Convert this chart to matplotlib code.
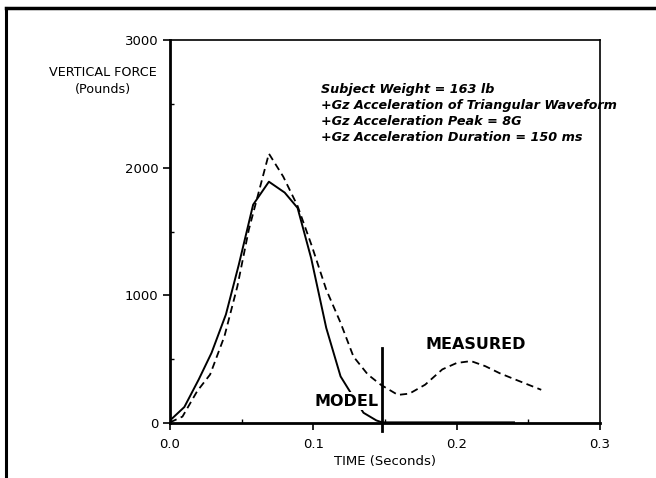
import numpy as np
import matplotlib.pyplot as plt
from matplotlib.lines import Line2D

# Model (solid) curve
t_model = [0.0, 0.010, 0.020, 0.029, 0.039, 0.048, 0.058, 0.069, 0.080, 0.089,
           0.0985, 0.109, 0.119, 0.127, 0.135, 0.144, 0.148, 0.24]
f_model = [20, 125, 340, 550, 850, 1240, 1710, 1890, 1805, 1685,
           1290, 745, 365, 220, 80, 20, 5, 5]

# Measured (dashed) curve
t_meas = [0.0, 0.0087, 0.019, 0.028, 0.038, 0.047, 0.055, 0.069, 0.079, 0.089,
          0.099, 0.109, 0.119, 0.128, 0.138, 0.147, 0.159, 0.167, 0.178, 0.190,
          0.200, 0.210, 0.220, 0.230, 0.241, 0.250, 0.259]
f_meas = [5, 50, 250, 380, 680, 1070, 1515, 2110, 1930, 1700,
          1385, 1045, 785, 520, 380, 300, 220, 230, 300, 420,
          470, 485, 445, 390, 340, 300, 260]

# vertical marker at end of pulse
pulse_end = 0.148
pulse_range = [-60, 590]

info = ("Subject Weight = 163 lb\n"
        "+Gz Acceleration of Triangular Waveform\n"
        "+Gz Acceleration Peak = 8G\n"
        "+Gz Acceleration Duration = 150 ms")

fig = plt.figure(figsize=(6.56, 4.78), dpi=100)
ax = fig.add_axes([170/656, 1-423/478, 430/656, 383/478])

ax.plot(t_model, f_model, color='black', lw=1.4)
ax.plot(t_meas, f_meas, color='black', lw=1.3, ls=(0, (4, 2.5)))
ax.plot([pulse_end, pulse_end], pulse_range, color='black', lw=2, clip_on=False)

ax.set_xlim(0, 0.3)
ax.set_ylim(0, 3000)
ax.set_xticks([0.0, 0.1, 0.2, 0.3])
ax.set_xticklabels(['0.0', '0.1', '0.2', '0.3'])
ax.set_yticks([0, 1000, 2000, 3000])
ax.set_xticks([0.05, 0.15, 0.25], minor=True)
ax.set_yticks([500, 1500, 2500], minor=True)
ax.tick_params(which='major', direction='out', length=5, width=1.2, labelsize=9.5)
ax.tick_params(which='minor', direction='in', length=3, width=1)
ax.tick_params(axis='x', pad=6)
for s in ax.spines.values():
    s.set_linewidth(1.2)
ax.spines['left'].set_linewidth(2)
ax.spines['bottom'].set_linewidth(2)

ax.set_xlabel('TIME (Seconds)', fontsize=9.5, labelpad=3)

fig.text(103/656, 1-81/478, 'VERTICAL FORCE\n(Pounds)', ha='center', va='center',
         fontsize=9.2, linespacing=1.45)
ax.text(0.1055, 2660, info, fontsize=9.2, fontweight='bold', style='italic',
        va='top', ha='left', linespacing=1.27, zorder=1)
ax.text(0.178, 615, 'MEASURED', fontsize=11.5, fontweight='bold', ha='left', va='center')
ax.text(0.101, 170, 'MODEL', fontsize=11.5, fontweight='bold', ha='left', va='center',
        bbox=dict(facecolor='white', edgecolor='none', pad=1), zorder=5)

# outer frame (left and top edges)
fig.add_artist(Line2D([6/656, 6/656], [0, 1-8/478], color='black', lw=2.2))
fig.add_artist(Line2D([6/656, 1], [1-8/478, 1-8/478], color='black', lw=2.5))

fig.savefig('out.png', dpi=100)
